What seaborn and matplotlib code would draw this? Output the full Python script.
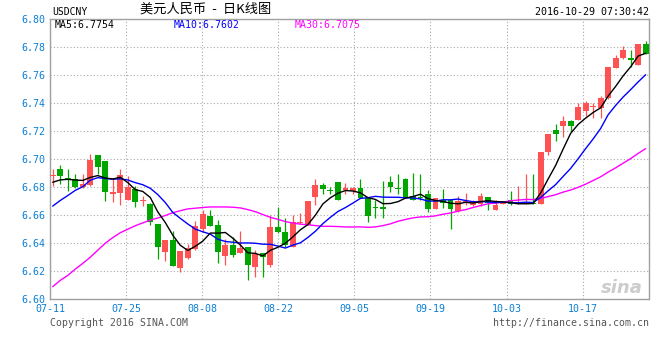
import numpy as np
import pandas as pd
import matplotlib
matplotlib.use("Agg")
import matplotlib.pyplot as plt
import seaborn as sns

# ---------------- data ----------------
opens = [6.6883, 6.6928, 6.6868, 6.6861, 6.6803, 6.6815, 6.7029, 6.6986, 6.6753, 6.6760,
         6.6712, 6.6789, 6.6698, 6.6683, 6.6539, 6.6340, 6.6424, 6.6222, 6.6292, 6.6360,
         6.6500, 6.6597, 6.6532, 6.6309, 6.6388, 6.6333, 6.6371, 6.6232, 6.6328, 6.6244,
         6.6515, 6.6477, 6.6376, 6.6546, 6.6532, 6.6731, 6.6813, 6.6774, 6.6837, 6.6779,
         6.6772, 6.6796, 6.6724, 6.6654, 6.6659, 6.6837, 6.6796, 6.6861, 6.6736, 6.6726,
         6.6748, 6.6647, 6.6712, 6.6712, 6.6628, 6.6688, 6.6676, 6.6680, 6.6731, 6.6639,
         6.6681, 6.6712, 6.6682, 6.6677, 6.6686, 6.6677, 6.7049, 6.7210, 6.7238, 6.7274,
         6.7279, 6.7345, 6.7369, 6.7364, 6.7433, 6.7653, 6.7719, 6.7719, 6.7670, 6.7819]
highs = [6.6928, 6.6957, 6.6933, 6.6892, 6.6892, 6.7036, 6.7031, 6.6988, 6.6856, 6.6928,
         6.6880, 6.6808, 6.6736, 6.6685, 6.6540, 6.6425, 6.6484, 6.6346, 6.6395, 6.6560,
         6.6640, 6.6640, 6.6568, 6.6429, 6.6448, 6.6484, 6.6372, 6.6352, 6.6329, 6.6604,
         6.6659, 6.6580, 6.6604, 6.6616, 6.6701, 6.6856, 6.6832, 6.6803, 6.6838, 6.6832,
         6.6803, 6.6856, 6.6725, 6.6712, 6.6844, 6.6880, 6.6892, 6.6862, 6.6904, 6.6892,
         6.6779, 6.6725, 6.6784, 6.6713, 6.6736, 6.6760, 6.6712, 6.6760, 6.6732, 6.6705,
         6.6685, 6.6776, 6.6805, 6.6895, 6.6895, 6.7054, 6.7179, 6.7250, 6.7309, 6.7279,
         6.7404, 6.7416, 6.7404, 6.7452, 6.7659, 6.7743, 6.7807, 6.7776, 6.7820, 6.7843]
lows = [6.6808, 6.6820, 6.6772, 6.6796, 6.6796, 6.6808, 6.6892, 6.6700, 6.6693, 6.6676,
        6.6710, 6.6659, 6.6669, 6.6527, 6.6285, 6.6275, 6.6239, 6.6195, 6.6290, 6.6355,
        6.6480, 6.6523, 6.6256, 6.6244, 6.6304, 6.6328, 6.6136, 6.6160, 6.6160, 6.6232,
        6.6476, 6.6376, 6.6375, 6.6539, 6.6531, 6.6676, 6.6748, 6.6748, 6.6711, 6.6748,
        6.6748, 6.6723, 6.6549, 6.6580, 6.6580, 6.6765, 6.6748, 6.6723, 6.6706, 6.6712,
        6.6621, 6.6646, 6.6652, 6.6503, 6.6621, 6.6676, 6.6664, 6.6669, 6.6638, 6.6634,
        6.6679, 6.6670, 6.6682, 6.6677, 6.6677, 6.6677, 6.7032, 6.7127, 6.7160, 6.7198,
        6.7278, 6.7309, 6.7293, 6.7293, 6.7432, 6.7652, 6.7712, 6.7658, 6.7669, 6.7752]
closes = [6.6887, 6.6880, 6.6851, 6.6803, 6.6820, 6.6993, 6.6947, 6.6765, 6.6765, 6.6885,
          6.6803, 6.6693, 6.6702, 6.6549, 6.6371, 6.6424, 6.6239, 6.6344, 6.6364, 6.6520,
          6.6611, 6.6525, 6.6340, 6.6388, 6.6316, 6.6369, 6.6244, 6.6321, 6.6299, 6.6515,
          6.6477, 6.6388, 6.6549, 6.6552, 6.6700, 6.6813, 6.6789, 6.6770, 6.6712, 6.6796,
          6.6796, 6.6724, 6.6597, 6.6649, 6.6645, 6.6803, 6.6789, 6.6724, 6.6707, 6.6724,
          6.6647, 6.6724, 6.6688, 6.6647, 6.6700, 6.6700, 6.6700, 6.6735, 6.6685, 6.6670,
          6.6683, 6.6677, 6.6693, 6.6686, 6.6677, 6.7054, 6.7179, 6.7179, 6.7269, 6.7238,
          6.7373, 6.7404, 6.7381, 6.7435, 6.7658, 6.7719, 6.7779, 6.7705, 6.7819, 6.7753]

# moving-average values at the left edge (they depend on quotes before the window)
ma5_head = [6.6835, 6.6852, 6.6856, 6.6851]
ma10_head = [6.6665, 6.6705, 6.6740, 6.6777, 6.6803, 6.6850, 6.6868, 6.6862, 6.6857]
ma30_head = [6.6090, 6.6135, 6.6170, 6.6215, 6.6256, 6.6300, 6.6350, 6.6400, 6.6440, 6.6475,
             6.6500, 6.6525, 6.6545, 6.6565, 6.6580, 6.6598, 6.6618, 6.6632, 6.6645, 6.6650,
             6.6655, 6.6659, 6.6659, 6.6659, 6.6657, 6.6652, 6.6640, 6.6625, 6.6605]

date_labels = ["07-11", "07-25", "08-08", "08-22", "09-05", "09-19", "10-03", "10-17"]
price_ticks = [6.60, 6.62, 6.64, 6.66, 6.68, 6.70, 6.72, 6.74, 6.76, 6.78, 6.80]
legend_labels = ["MA5:6.7754", "MA10:6.7602", "MA30:6.7075"]
symbol = "USDCNY"
title = "美元人民币  -  日K线图"
timestamp = "2016-10-29 07:30:42"
footer_left = "Copyright 2016 SINA.COM"
footer_right = "http://finance.sina.com.cn"

# ---------------- derived series ----------------
n = len(closes)
idx = np.arange(n)
cl = pd.Series(closes)
ma5 = np.concatenate([ma5_head, cl.rolling(5).mean().values[4:]])
ma10 = np.concatenate([ma10_head, cl.rolling(10).mean().values[9:]])
ma30 = np.concatenate([ma30_head, cl.rolling(30).mean().values[29:]])
ma_df = pd.concat([
    pd.DataFrame({"idx": idx, "val": ma30, "ma": "MA30"}),
    pd.DataFrame({"idx": idx, "val": ma10, "ma": "MA10"}),
    pd.DataFrame({"idx": idx, "val": ma5, "ma": "MA5"}),
])

# ---------------- style ----------------
sns.set_style("white")
plt.rcParams["font.family"] = ["DejaVu Sans Mono", "DejaVu Sans"]

W, H = 660, 360
fig = plt.figure(figsize=(W / 100, H / 100), dpi=100)
ax_l, ax_r, ax_t, ax_b = 50, 649.3, 19, 299.3
ax = fig.add_axes([ax_l / W, 1 - ax_b / H, (ax_r - ax_l) / W, (ax_b - ax_t) / H])

RED = "#ff5252"
GREEN = "#00a600"
TICK_BLUE = "#0b7fd4"
GRID = "#a8a8a8"

o = np.array(opens); c = np.array(closes)
up = c >= o
colors = np.where(up, RED, GREEN)
px = (price_ticks[-1] - price_ticks[0]) / (ax_b - ax_t)
body_bottom = np.minimum(o, c)
body_h = np.maximum(np.abs(c - o), px)

ax.vlines(idx, lows, highs, colors=colors, lw=0.9, zorder=2)
ax.bar(idx, body_h, bottom=body_bottom, width=0.78, color=colors, lw=0, zorder=3)

sns.lineplot(data=ma_df, x="idx", y="val", hue="ma",
             palette={"MA5": "#000000", "MA10": "#0000ff", "MA30": "#ff00ff"},
             legend=False, lw=1.0, ax=ax, zorder=4, sort=False,
             estimator=None)

# axes ranges (candle 0 at px 52.7, spacing 7.506 px)
step = 7.506
ax.set_xlim((ax_l - 52.7) / step, (ax_r - 52.7) / step)
ax.set_ylim(price_ticks[0], price_ticks[-1])

# x grid every 76.1 px from the left border
xt = [((ax_l + 76.1 * k) - 52.7) / step for k in range(len(date_labels))]
ax.set_xticks(xt)
ax.set_xticklabels(date_labels)
ax.set_yticks(price_ticks)
ax.set_yticklabels([f"{v:.2f}" for v in price_ticks])
ax.tick_params(axis="both", length=0, colors=TICK_BLUE, labelsize=7.2)
ax.tick_params(axis="y", pad=3)
ax.tick_params(axis="x", pad=3.5)
ax.set_xlabel("")
ax.set_ylabel("")
ax.grid(True, color=GRID, lw=0.8, linestyle=(0, (1, 2)))
ax.set_axisbelow(True)
for s in ["top", "left", "right"]:
    ax.spines[s].set_color("#a0a0a0")
    ax.spines[s].set_linewidth(1.0)
ax.spines["bottom"].set_color("#a0a0a0")
ax.spines["bottom"].set_linestyle((0, (1, 1)))
ax.spines["bottom"].set_linewidth(1.0)

# texts
def ft(x, y, s, **kw):
    fig.text(x / W, 1 - y / H, s, va="center", **kw)

ft(52, 12, symbol, ha="left", fontsize=7, color="#000000")
ft(140, 9.5, title, ha="left", fontsize=9.5, color="#000000",
   family=["Noto Sans CJK SC", "DejaVu Sans"])
ft(649, 12, timestamp, ha="right", fontsize=7.2, color="#000000")
leg_colors = ["#000000", "#0000ff", "#ff00ff"]
for lab, xx, col in zip(legend_labels, [55, 174, 295], leg_colors):
    ft(xx, 24.5, lab, ha="left", fontsize=7.1, color=col)
ft(50, 323, footer_left, ha="left", fontsize=7.1, color="#555555")
ft(649, 323, footer_right, ha="right", fontsize=7.1, color="#555555")
ft(622, 288, "sina", ha="center", fontsize=13, color="#cccccc",
   style="italic", weight="bold", family=["DejaVu Sans"])

fig.savefig("out.png", dpi=100)
